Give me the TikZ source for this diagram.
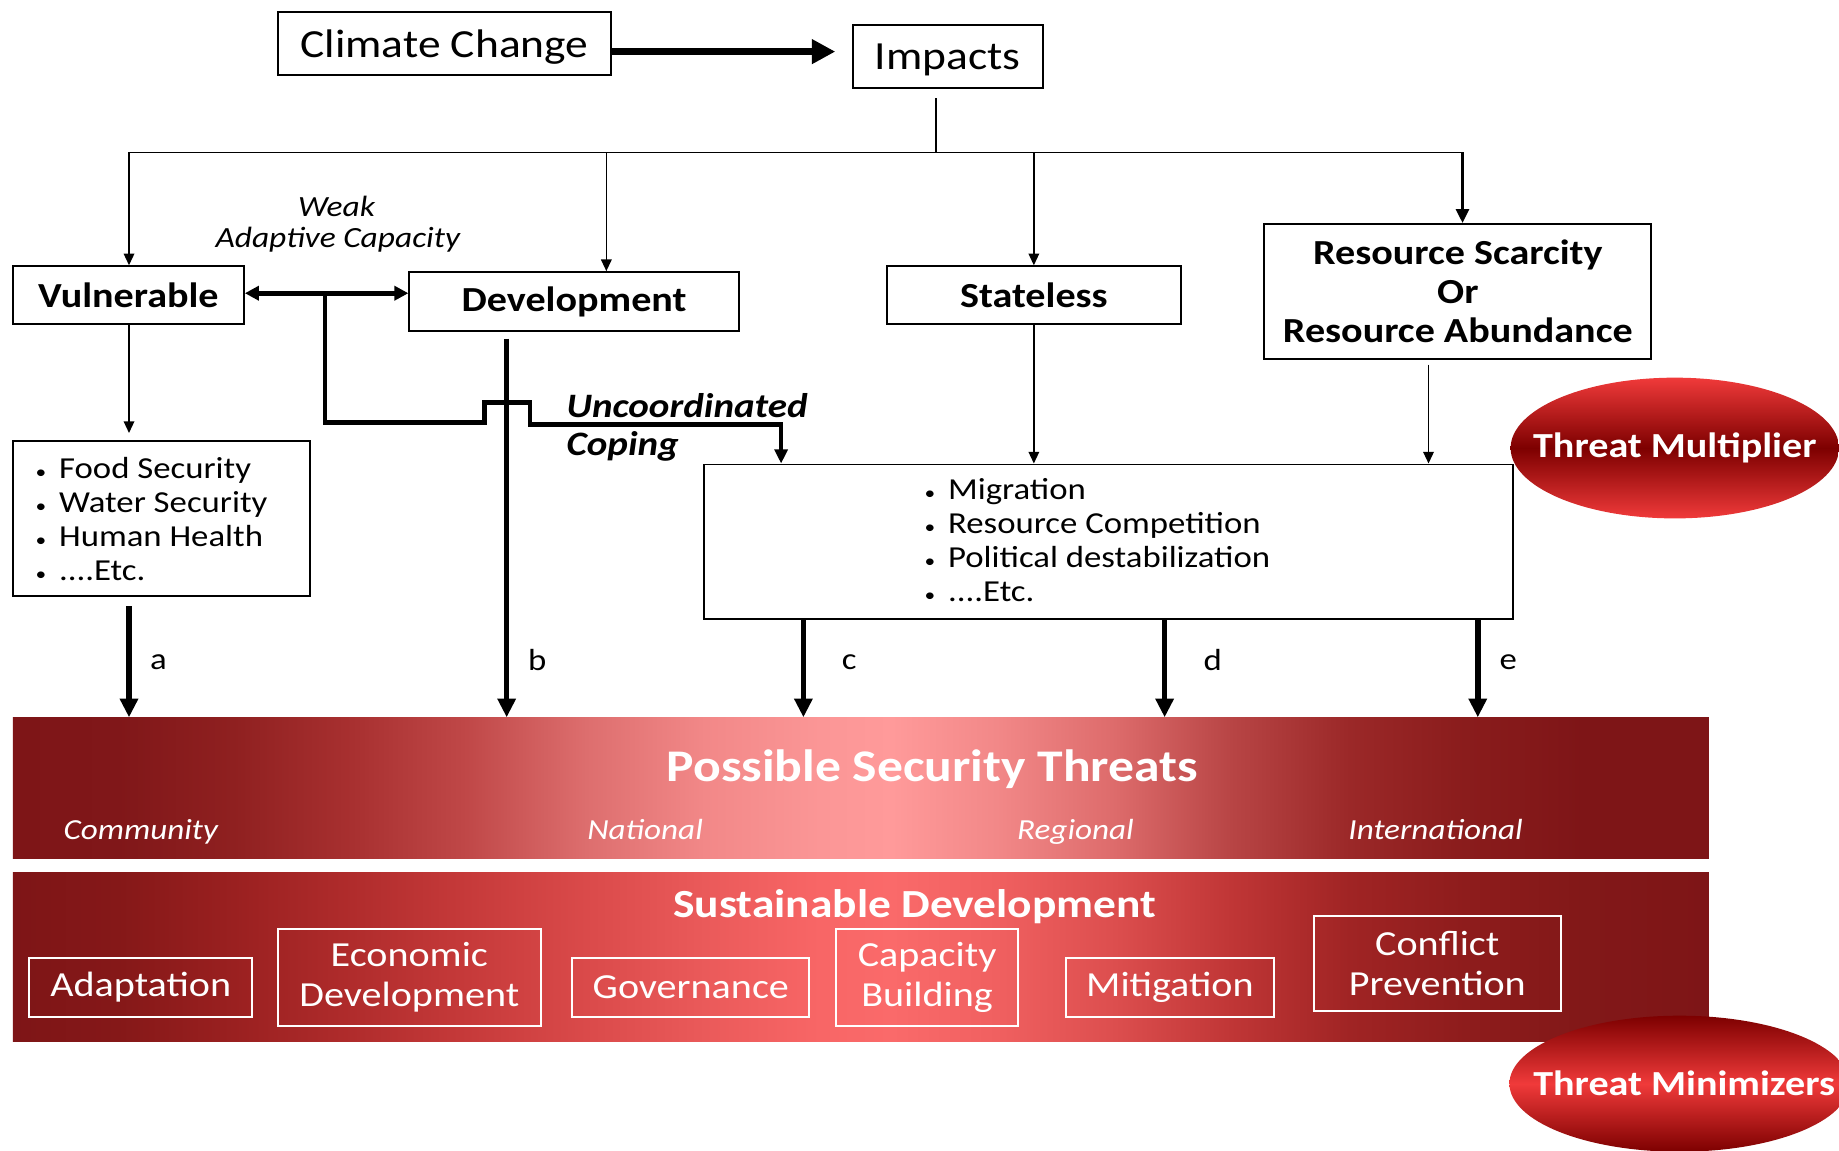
\documentclass[tikz,border=0pt]{standalone}
\usepackage{fontspec}
\setmainfont[FakeStretch=1.14]{Carlito}
\usetikzlibrary{arrows.meta,shapes.geometric}
\definecolor{bdark}{HTML}{7E1517}
\definecolor{pa}{HTML}{801719}
\definecolor{pb}{HTML}{8F2020}
\definecolor{pc}{HTML}{A83030}
\definecolor{pd}{HTML}{C04848}
\definecolor{pe}{HTML}{DD6E6E}
\definecolor{pf}{HTML}{F28888}
\definecolor{pg}{HTML}{FB9696}
\definecolor{ph}{HTML}{FF9A9A}
\definecolor{pi}{HTML}{DD6B6B}
\definecolor{pj}{HTML}{B84545}
\definecolor{pk}{HTML}{9B2828}
\definecolor{pl}{HTML}{8A1C1C}
\definecolor{sa}{HTML}{851818}
\definecolor{sb}{HTML}{9A2020}
\definecolor{sc}{HTML}{B02C2C}
\definecolor{sd}{HTML}{C63A3A}
\definecolor{se}{HTML}{DA4A4A}
\definecolor{sf}{HTML}{EA5A5A}
\definecolor{sg}{HTML}{F86666}
\definecolor{sh}{HTML}{FA6A6A}
\definecolor{si}{HTML}{F06060}
\definecolor{sj}{HTML}{DC4E4E}
\definecolor{sk}{HTML}{C03636}
\definecolor{sl}{HTML}{A02424}
\definecolor{sm}{HTML}{8E1C1C}
\definecolor{sn}{HTML}{821818}
\definecolor{elight}{HTML}{F03A3A}
\definecolor{edark}{HTML}{7D0000}
\pgfdeclarehorizontalshading{threatshade}{100bp}{color(0bp)=(bdark); color(25bp)=(bdark); color(28.1bp)=(pa); color(31.5bp)=(pb); color(35bp)=(pc); color(38.4bp)=(pd); color(41.9bp)=(pe); color(45.4bp)=(pf); color(48.8bp)=(pg); color(50.9bp)=(ph); color(54bp)=(pf); color(57.5bp)=(pi); color(60.9bp)=(pj); color(64.4bp)=(pk); color(67.8bp)=(pl); color(71.3bp)=(bdark); color(100bp)=(bdark)}
\pgfdeclarehorizontalshading{sustshade}{100bp}{color(0bp)=(bdark); color(25bp)=(bdark); color(28.1bp)=(sa); color(31.5bp)=(sb); color(35bp)=(sc); color(38.4bp)=(sd); color(41.9bp)=(se); color(45.4bp)=(sf); color(48.8bp)=(sg); color(50.9bp)=(sh); color(54bp)=(si); color(57.5bp)=(sj); color(60.9bp)=(sk); color(64.4bp)=(sl); color(67.8bp)=(sm); color(71.3bp)=(sn); color(75bp)=(bdark); color(100bp)=(bdark)}
\newcommand\fsA{\fontsize{17}{20}\selectfont}
\newcommand\fsB{\fontsize{15}{18}\selectfont\bfseries}
\newcommand\fsC{\fontsize{12.5}{14}\selectfont\itshape}
\newcommand\fsD{\fontsize{14.6}{17}\selectfont\bfseries\itshape}
\newcommand\fsE{\fontsize{13}{14.5}\selectfont}
\newcommand\fsF{\fontsize{15}{17}\selectfont}
\newcommand\fsG{\fontsize{12.4}{14}\selectfont\itshape}
\newcommand\blt{\makebox[10pt][l]{\fontsize{8}{8}\selectfont\textbullet}}
\tikzset{
  box/.style={draw, line width=0.8pt, fill=white, inner sep=0pt},
  wbox/.style={draw=white, line width=0.8pt, inner sep=0pt, align=center, text=white, font=\fsF},
  thin/.style={line width=0.7pt, -{Triangle[length=5pt,width=4.5pt]}},
  heavy/.style={line width=2.4pt, -{Triangle[length=8pt,width=7.5pt]}},
  lbl/.style={font=\fsE},
  band/.style={inner sep=0pt, draw=none},
  blob/.style={ellipse, inner sep=0pt},
  blobtext/.style={text=white, font=\fsB, inner sep=0pt},
  bandtext/.style={text=white, font=\fsG, text depth=0pt}
}
\begin{document}
\begin{tikzpicture}[x=0.5pt,y=-0.5pt]
\useasboundingbox (0,0) rectangle (1568,981);
% top boxes
\node[box, minimum width=142pt, minimum height=27pt, font=\fsA, text depth=0pt] (cc) at (379,37) {Climate Change};
\node[box, minimum width=81pt, minimum height=27pt, font=\fsA, text depth=0pt] (imp) at (808,48) {Impacts};
\node[box, minimum width=98.5pt, minimum height=24.5pt, font=\fsB] (vul) at (109.5,251.5) {Vulnerable};
\node[box, minimum width=140.5pt, minimum height=25pt, font=\fsB] (dev) at (489.5,257) {Development};
\node[box, minimum width=125.5pt, minimum height=24.5pt, font=\fsB] (sta) at (881.5,251.5) {Stateless};
\node[box, minimum width=165pt, minimum height=57.5pt, font=\fsB, align=center] (res) at (1243,248.5) {Resource Scarcity\\[-1.5pt]Or\\[-1.5pt]Resource Abundance};
% lists
\node[box, minimum width=126.5pt, minimum height=66pt] (lst1) at (137.5,442) {};
\node[box, minimum width=345pt, minimum height=66pt] (lst2) at (945,462) {};
\node[anchor=west, inner sep=0pt, align=left, font=\fsE] (lst1t) at (30,442.5) {\blt Food Security\\\blt Water Security\\\blt Human Health\\\blt ....Etc.};
\node[anchor=west, inner sep=0pt, align=left, font=\fsE] (lst2t) at (788,460.5) {\blt Migration\\\blt Resource Competition\\\blt Political destabilization\\\blt ....Etc.};
% bands
\node[band, minimum width=723pt, minimum height=60pt, shading=threatshade] (thr) at (734,672) {};
\node[band, minimum width=723pt, minimum height=72pt, shading=sustshade] (sus) at (734,816) {};
\node[text=white, font=\fontsize{19.3}{21}\selectfont\bfseries] (thrt) at (795,656) {Possible Security Threats};
\node[bandtext] (com) at (120,707) {Community};
\node[bandtext] (nat) at (550,707) {National};
\node[bandtext] (reg) at (917,707) {Regional};
\node[bandtext] (int) at (1224,707) {International};
\node[text=white, font=\fontsize{17}{19}\selectfont\bfseries] (sust) at (780,773) {Sustainable Development};
\node[wbox, minimum width=95pt, minimum height=25pt] (ada) at (120,842) {Adaptation};
\node[wbox, minimum width=112pt, minimum height=41.5pt] (eco) at (349,833.5) {Economic\\Development};
\node[wbox, minimum width=101pt, minimum height=25pt] (gov) at (589,842) {Governance};
\node[wbox, minimum width=77.5pt, minimum height=41.5pt] (cap) at (790.5,833.5) {Capacity\\Building};
\node[wbox, minimum width=88.5pt, minimum height=25pt] (mit) at (997.5,842) {Mitigation};
\node[wbox, minimum width=105.5pt, minimum height=40.5pt] (con) at (1225.5,821.5) {Conflict\\Prevention};
% blobs
\node[blob, minimum width=140pt, minimum height=60pt, top color=elight, bottom color=elight, middle color=edark] (tmul) at (1428,382) {};
\node[blobtext] (tmult) at (tmul.center) {Threat Multiplier};
\node[blob, minimum width=145pt, minimum height=58pt, top color=edark, bottom color=edark, middle color=elight] (tmin) at (1432,924) {};
\node[blobtext] (tmint) at (1436,924) {Threat Minimizers};
% labels
\node[font=\fsC] (weak) at (287,176) {Weak};
\node[font=\fsC] (adc) at (288,204) {Adaptive Capacity};
\node[font=\fsD, anchor=west] (unc) at (476,346) {Uncoordinated};
\node[font=\fsD, anchor=west] (cop) at (476,381) {Coping};
\node[lbl] (la) at (135,565) {a};
\node[lbl] (lb) at (458,563) {b};
\node[lbl] (lc) at (724,565) {c};
\node[lbl] (ld) at (1034,563) {d};
\node[lbl] (le) at (1286,565) {e};
% connectors
\draw[line width=2.8pt, -{Triangle[length=10pt,width=10pt]}, shorten >=7pt] (cc.east |- 0,44) -- (imp.west |- 0,44);
\coordinate (jt) at (798,130);
\coordinate (jl) at (110,130);
\coordinate (jr) at (1247,130);
\draw[line width=0.8pt, shorten <=4pt] (imp.south -| jt) -- (jt);
\draw[line width=0.8pt] (jl) -- (jr);
\draw[thin] (jl) -- (vul.north -| jl);
\draw[thin] (jl -| 517,0) -- (dev.north -| 517,0);
\draw[thin] (jl -| sta.north) -- (sta.north);
\draw[line width=1.3pt, -{Triangle[length=6pt,width=5.5pt]}] (jr) -- (res.north -| jr);
\draw[line width=2pt, {Triangle[length=6pt,width=6pt]}-{Triangle[length=6pt,width=6pt]}] (vul.east |- 0,250) -- (dev.west |- 0,250);
\draw[line width=2pt, -{Triangle[length=6pt,width=5.5pt]}] (277,250) -- (277,360) -- (413,360) -- (413,343) -- (452,343) -- (452,362) -- (666,362) -- (lst2.north -| 666,0);
\draw[heavy, shorten <=3pt] (dev.south -| 432,0) -- (thr.north -| 432,0);
\draw[thin, shorten >=3pt] (vul.south -| jl) -- (lst1.north -| jl);
\draw[heavy, shorten <=4pt] (lst1.south -| jl) -- (thr.north -| jl);
\draw[thin] (sta.south) -- (lst2.north -| sta.south);
\draw[thin, shorten <=2pt] (res.south -| 1218,0) -- (lst2.north -| 1218,0);
\draw[heavy] (lst2.south -| 685,0) -- (thr.north -| 685,0);
\draw[heavy] (lst2.south -| 993,0) -- (thr.north -| 993,0);
\draw[heavy] (lst2.south -| 1260,0) -- (thr.north -| 1260,0);
\end{tikzpicture}
\end{document}
